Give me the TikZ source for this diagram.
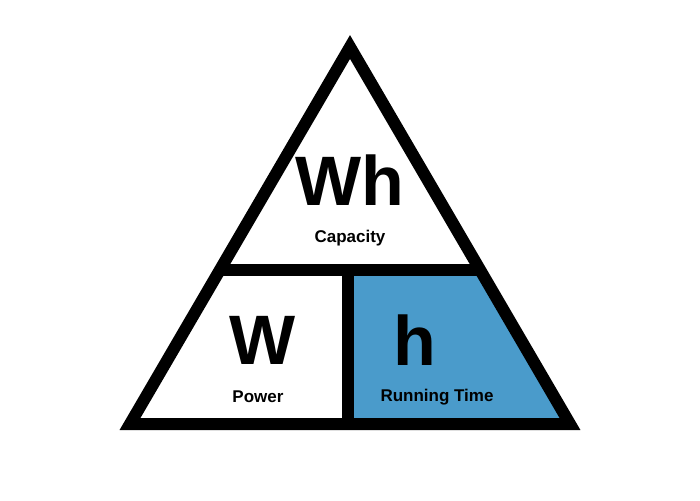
\documentclass[tikz,border=0pt]{standalone}
\usepackage{fontspec}
\setmainfont{Liberation Sans}
\usetikzlibrary{calc}
\definecolor{runblue}{HTML}{4A9BCB}
\begin{document}
\begin{tikzpicture}[x=1pt,y=-1pt]
  \tikzstyle{edge}=[line width=12pt, line join=miter]
  \tikzstyle{big}=[font=\bfseries\fontsize{70}{70}\selectfont]
  \tikzstyle{small}=[font=\bfseries\fontsize{17}{17}\selectfont]
  \useasboundingbox (0,0) rectangle (700,500);
  \coordinate (top) at (350,47);
  \coordinate (bl) at (130,424);
  \coordinate (br) at (570,424);
  \coordinate (ml) at (220,270);
  \coordinate (mr) at (480,270);
  \coordinate (mc) at (348,270);
  \coordinate (bc) at (348,424);
  % blue part
  \fill[runblue] (mc) -- (mr) -- (br) -- (bc) -- cycle;
  \draw[edge] (top) -- (br) -- (bl) -- cycle;
  \draw[edge] (ml) -- (mr);
  \draw[edge] (mc) -- (bc);
  \node[big]   (wh)  at (350,180) {Wh};
  \node[small] (cap) at (350,238) {Capacity};
  \node[big]   (w)   at (263,340) {W};
  \node[small] (pow) at (258,397) {Power};
  \node[big]   (h)   at (415,340) {h};
  \node[small] (run) at (437,397) {Running Time};
\end{tikzpicture}
\end{document}
